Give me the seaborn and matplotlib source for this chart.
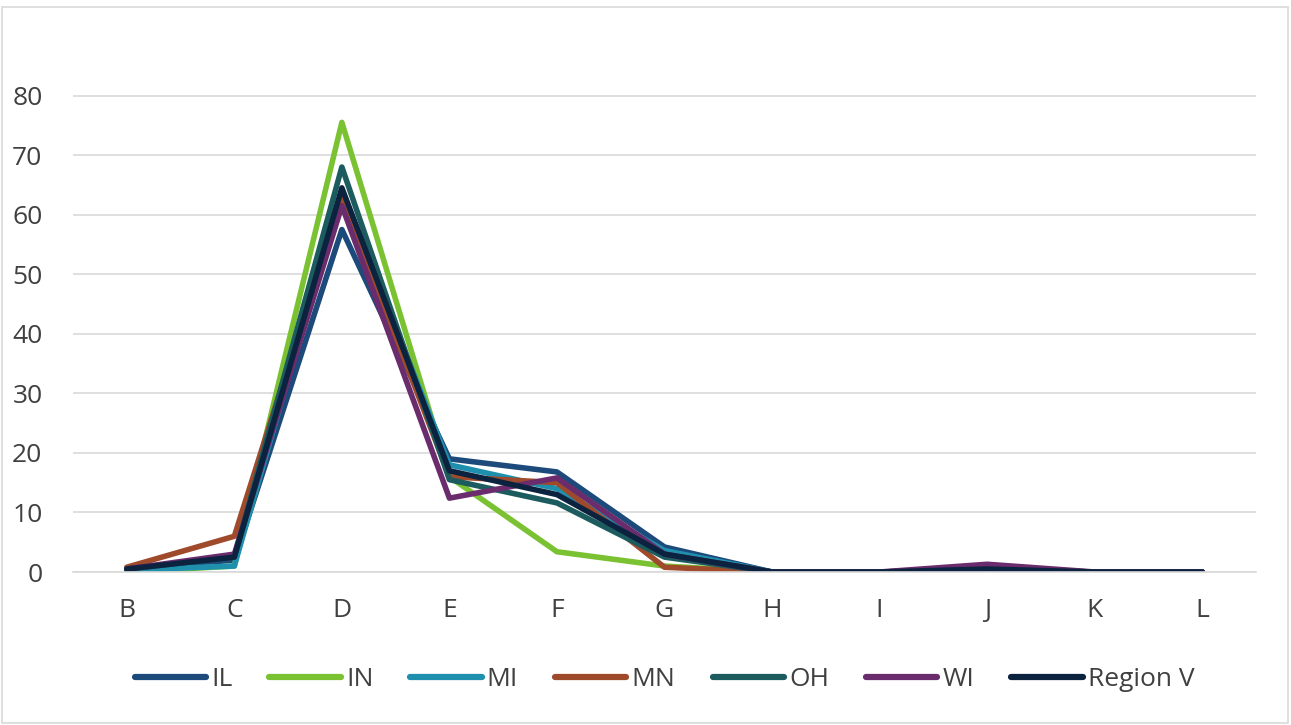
import numpy as np
import pandas as pd
import matplotlib.pyplot as plt
import seaborn as sns
from matplotlib.patches import Rectangle

# categories and series
categories = ['B', 'C', 'D', 'E', 'F', 'G', 'H', 'I', 'J', 'K', 'L']
il = [0.5, 2.0, 57.5, 19.0, 16.8, 4.2, 0.0, 0.0, 0.4, 0.0, 0.0]
ind = [0.0, 1.0, 75.5, 16.0, 3.4, 1.0, 0.0, 0.0, 0.2, 0.0, 0.0]
mi = [0.3, 1.0, 64.0, 18.0, 14.0, 3.6, 0.0, 0.0, 0.4, 0.0, 0.0]
mn = [0.8, 6.0, 63.0, 16.0, 15.0, 0.8, 0.0, 0.0, 0.5, 0.0, 0.0]
oh = [0.5, 2.5, 68.0, 15.5, 11.6, 2.5, 0.0, 0.0, 0.4, 0.0, 0.0]
wi = [0.5, 3.0, 61.5, 12.4, 15.8, 3.0, 0.0, 0.0, 1.3, 0.0, 0.0]
region_v = [0.5, 2.5, 64.5, 17.0, 13.0, 3.0, 0.0, 0.0, 0.5, 0.0, 0.0]

series = {'IL': il, 'IN': ind, 'MI': mi, 'MN': mn, 'OH': oh, 'WI': wi, 'Region V': region_v}
colors = ['#1c4a7a', '#7ac231', '#1f8fae', '#a04a2c', '#1d5c5e', '#6a2c6c', '#0c2340']

rows = []
for name, vals in series.items():
    for c, v in zip(categories, vals):
        rows.append({'cat': c, 'value': v, 'state': name})
df = pd.DataFrame(rows)

sns.set_style('white')
plt.rcParams['font.family'] = ['Open Sans', 'DejaVu Sans']

fig = plt.figure(figsize=(12.91, 7.25), dpi=100)
ax = fig.add_axes([73 / 1291, 1 - 572 / 725, (1256 - 73) / 1291, (572 - 36) / 725])

sns.lineplot(data=df, x='cat', y='value', hue='state', palette=colors,
             linewidth=4.0, sort=False, ax=ax, legend=True)

ax.set_xlim(-0.5, len(categories) - 0.5)
ax.set_ylim(0, 90)
ax.set_yticks(range(0, 90, 10))
ax.set_yticklabels([str(v) for v in range(0, 90, 10)])
ax.yaxis.grid(True, color='#d9d9d9', linewidth=1.2)
ax.set_axisbelow(True)
ax.set_xlabel('')
ax.set_ylabel('')
for s in ['top', 'right', 'left']:
    ax.spines[s].set_visible(False)
ax.spines['bottom'].set_color('#d9d9d9')
ax.spines['bottom'].set_linewidth(1.2)

# excel style tick marks between categories
ax.set_xticks(np.arange(len(categories)))
ax.set_xticklabels(categories)
ax.set_xticks(np.arange(-0.5, len(categories) + 0.5, 1), minor=True)
ax.tick_params(axis='x', which='major', length=0, pad=19, labelsize=19, colors='#404040')
ax.tick_params(axis='x', which='minor', length=8, color='#d9d9d9', width=1.2, direction='out')
ax.tick_params(axis='y', length=0, pad=22, labelsize=19, colors='#404040')

ax.legend(loc='upper center', bbox_to_anchor=(0.5, -0.133), ncol=7, frameon=False,
          fontsize=19, handlelength=2.7, columnspacing=1.4, handletextpad=0.2,
          labelcolor='#404040')
for line in ax.get_legend().get_lines():
    line.set_linewidth(4.5)
    line.set_solid_capstyle('round')

fig.patches.append(Rectangle((2 / 1291, 2 / 725), 1286 / 1291, 716 / 725,
                             transform=fig.transFigure, fill=False,
                             edgecolor='#d9d9d9', linewidth=1.2))

fig.savefig('out.png', dpi=100)
